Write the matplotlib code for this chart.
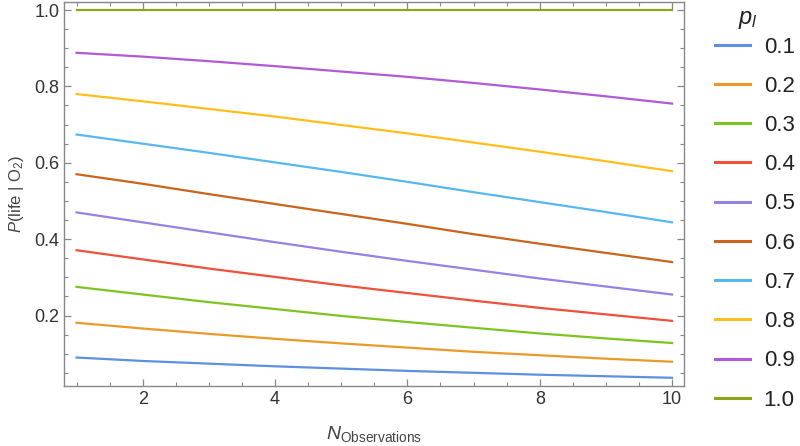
import numpy as np
import matplotlib
matplotlib.use("Agg")
import matplotlib.pyplot as plt
from matplotlib.ticker import MultipleLocator

plt.rcParams['font.family'] = ['Liberation Sans', 'DejaVu Sans']
plt.rcParams['mathtext.fontset'] = 'custom'
plt.rcParams['mathtext.rm'] = 'Liberation Sans'
plt.rcParams['mathtext.it'] = 'Liberation Sans:italic'

# 观测次数 N
n_obs = [1, 2, 3, 4, 5, 6, 7, 8, 9, 10]

# 各先验 p_l 对应的 P(life | O2)
p_labels = ["0.1", "0.2", "0.3", "0.4", "0.5", "0.6", "0.7", "0.8", "0.9", "1.0"]
p01 = [0.090, 0.081, 0.074, 0.067, 0.061, 0.055, 0.050, 0.045, 0.041, 0.037]
p02 = [0.181, 0.166, 0.152, 0.139, 0.127, 0.116, 0.105, 0.096, 0.087, 0.079]
p03 = [0.275, 0.255, 0.235, 0.217, 0.199, 0.183, 0.168, 0.153, 0.140, 0.128]
p04 = [0.371, 0.347, 0.323, 0.301, 0.279, 0.259, 0.239, 0.220, 0.203, 0.186]
p05 = [0.470, 0.444, 0.418, 0.392, 0.367, 0.343, 0.320, 0.297, 0.276, 0.255]
p06 = [0.570, 0.545, 0.518, 0.492, 0.466, 0.440, 0.413, 0.388, 0.364, 0.340]
p07 = [0.674, 0.650, 0.626, 0.601, 0.576, 0.550, 0.523, 0.497, 0.471, 0.444]
p08 = [0.780, 0.761, 0.741, 0.721, 0.699, 0.677, 0.653, 0.629, 0.604, 0.578]
p09 = [0.888, 0.878, 0.866, 0.853, 0.839, 0.825, 0.809, 0.792, 0.774, 0.755]
p10 = [1.0, 1.0, 1.0, 1.0, 1.0, 1.0, 1.0, 1.0, 1.0, 1.0]
series = [p01, p02, p03, p04, p05, p06, p07, p08, p09, p10]

colors = ['#5f8fe0', '#eb9a2a', '#7cc520', '#f0503a', '#9a80e0',
          '#c8641c', '#58b8ec', '#ffbf1a', '#b259d8', '#8ea51a']

fig = plt.figure(figsize=(8, 4.46), dpi=100)
ax = fig.add_axes([0.08, 0.135, 0.775, 0.8605])

for vals, c, lab in zip(series, colors, p_labels):
    ax.plot(n_obs, vals, color=c, linewidth=1.6, label=lab)

ax.set_xlim(0.81, 10.18)
ax.set_ylim(0.016, 1.021)

ax.xaxis.set_major_locator(MultipleLocator(2))
ax.xaxis.set_minor_locator(MultipleLocator(0.5))
ax.yaxis.set_major_locator(MultipleLocator(0.2))
ax.yaxis.set_minor_locator(MultipleLocator(0.05))
ax.set_yticks([0.2, 0.4, 0.6, 0.8, 1.0])
ax.set_yticklabels(["0.2", "0.4", "0.6", "0.8", "1.0"])

frame_col = '#888888'
for sp in ax.spines.values():
    sp.set_color(frame_col)
    sp.set_linewidth(1.0)
ax.tick_params(which='both', direction='in', top=True, right=True,
               color=frame_col, labelcolor='#333333', labelsize=13)
ax.tick_params(which='major', length=5, width=0.9)
ax.tick_params(which='minor', length=3, width=0.8)

ax.set_ylabel("$P$(life | O$_2$)", fontsize=12, color='#444444', labelpad=6)
ax.set_xlabel("$N_{\\mathrm{Observations}}$", fontsize=14, color='#444444', labelpad=12)

# 图例标题单独放，方便控制与第一项的间距
fig.text(0.935, 0.955, "$p_l$", fontsize=17, color='#222222', ha='center', va='center')
leg = ax.legend(loc='upper left', bbox_to_anchor=(0.888, 0.928),
                bbox_transform=fig.transFigure, frameon=False,
                fontsize=16, handlelength=1.6, handletextpad=0.6,
                labelspacing=0.82, borderaxespad=0.0, borderpad=0.2)
for t in leg.get_texts():
    t.set_color('#222222')
for h in leg.get_lines():
    h.set_linewidth(2.2)

fig.savefig("out.png", dpi=100)
